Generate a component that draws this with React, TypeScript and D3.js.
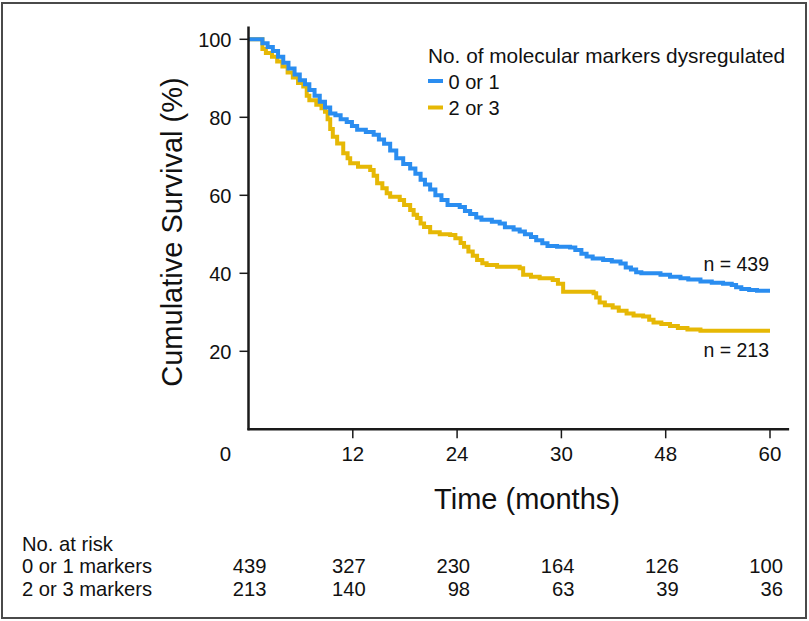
import React from "react";
import * as d3 from "d3";

const xTickValues = [0, 12, 24, 36, 48, 60];
const xTickLabels = ["0", "12", "24", "30", "48", "60"];
const yTickValues = [20, 40, 60, 80, 100];
const groupLabels = ["0 or 1", "2 or 3"];
const legendTitle = "No. of molecular markers dysregulated";
const riskRowLabels = ["0 or 1 markers", "2 or 3 markers"];
const riskLow = [439, 327, 230, 164, 126, 100];
const riskHigh = [213, 140, 98, 63, 39, 36];
const nLabels = ["n = 439", "n = 213"];

const lowTimes = [0, 1.3, 1.6, 2.2, 2.8, 3.4, 4.0, 4.6, 5.3, 5.9, 6.5, 7.0, 7.6, 8.2, 8.8, 9.4, 10.0, 10.6, 11.3, 11.9, 12.5, 13.5, 14.4, 15.0, 15.6, 16.3, 17.0, 17.8, 18.6, 19.2, 19.8, 20.3, 20.9, 21.5, 22.2, 22.9, 24.3, 24.9, 25.5, 26.2, 26.8, 28.0, 28.9, 29.5, 30.5, 31.2, 31.8, 32.5, 33.1, 33.8, 34.4, 35.5, 37.0, 37.6, 38.3, 38.9, 39.6, 40.8, 41.8, 42.8, 43.4, 44.0, 44.6, 45.2, 47.4, 48.5, 49.7, 50.6, 52.0, 53.3, 54.6, 55.6, 56.1, 56.7, 57.6, 58.5, 60];
const lowSurv = [100, 100, 99, 98, 97, 95.5, 94, 92.5, 91, 89.5, 88.5, 87, 85.5, 84, 82.5, 81, 80.5, 79.5, 78.8, 77.8, 76.8, 76.2, 75.5, 74.3, 73.2, 71.5, 69.5, 68, 66.9, 65.5, 64, 62.8, 61.5, 60, 58.8, 57.5, 57, 56, 55.2, 54.3, 53.7, 53.2, 52.8, 51.8, 51.2, 50.7, 50, 49.3, 48.5, 47.7, 47, 46.8, 46.6, 46, 45, 44.3, 43.8, 43.4, 43, 42.5, 41.5, 41, 40.3, 40, 39.6, 39.1, 38.7, 38.4, 37.9, 37.6, 37.3, 37, 36.4, 36, 35.7, 35.5, 35.5];

const highTimes = [0, 1.3, 1.6, 2.0, 2.7, 3.3, 3.9, 4.5, 5.1, 5.7, 6.3, 6.7, 7.0, 7.8, 8.4, 8.8, 9.1, 9.4, 9.7, 10.2, 10.9, 11.4, 11.7, 12.6, 14.0, 14.4, 14.8, 15.4, 15.9, 16.3, 17.4, 17.9, 18.6, 19.0, 19.4, 19.8, 20.2, 20.9, 22.0, 23.2, 23.8, 24.4, 24.8, 25.3, 25.8, 26.3, 26.9, 27.4, 28.6, 31.2, 31.6, 32.5, 33.5, 35.0, 35.6, 36.2, 39.7, 40.0, 40.4, 41.0, 41.9, 42.6, 43.5, 44.3, 45.4, 46.1, 46.6, 47.5, 48.5, 49.4, 50.5, 52.0, 60];
const highSurv = [100, 100, 97.5, 96.5, 95.5, 94.3, 93, 91.5, 90.2, 88.8, 87.9, 85.5, 84.4, 83.2, 82.3, 81.4, 79.5, 77, 75, 73.3, 70.8, 69.5, 68.2, 67.3, 66.5, 65, 63.1, 61.8, 60.5, 59.6, 58.8, 57.5, 56.2, 55, 54.2, 52.8, 51.9, 50.5, 50, 49.8, 49, 47.8, 46.8, 45.6, 44.5, 43.4, 42.6, 42.1, 41.7, 41.3, 39.6, 39.1, 38.7, 38.3, 37.3, 35.3, 34.9, 33.8, 32.5, 31.8, 31.2, 30.4, 29.7, 29.2, 28.9, 28.1, 27.4, 27, 26.5, 26, 25.6, 25.3, 25.3];

const BLUE = "#2a8df0";
const GOLD = "#e6b805";
const FONT = "'Liberation Sans', Arial, Helvetica, sans-serif";

export default function App() {
  const W = 809;
  const H = 621;
  const x = d3.scaleLinear().domain([0, 60]).range([248.5, 770]);
  const y = d3.scaleLinear().domain([0, 100]).range([429.3, 39.3]);

  const line = d3
    .line<[number, number]>()
    .x((d) => x(d[0]))
    .y((d) => y(d[1]))
    .curve(d3.curveStepAfter);

  const lowPts = lowTimes.map((t, i) => [t, lowSurv[i]] as [number, number]);
  const highPts = highTimes.map((t, i) => [t, highSurv[i]] as [number, number]);

  const axisColor = "#1a1a1a";
  const x0 = x(0);
  const yBase = y(0);

  return (
    <div style={{ position: "absolute", left: 0, top: 0, width: W, height: H, background: "#fff" }}>
      <svg width={W} height={H} style={{ display: "block" }} fontFamily={FONT}>
        <rect x={0} y={0} width={W} height={H} fill="#fff" />
        <rect x={2} y={3} width={804} height={615} fill="none" stroke="#4a4a4a" strokeWidth={2} />

        {/* curves */}
        <path d={line(highPts) || ""} fill="none" stroke={GOLD} strokeWidth={4} />
        <path d={line(lowPts) || ""} fill="none" stroke={BLUE} strokeWidth={4} />

        {/* axes */}
        <line x1={x0} y1={26.5} x2={x0} y2={yBase + 1} stroke={axisColor} strokeWidth={2.5} />
        <line x1={x0 - 1} y1={yBase} x2={x(62.2)} y2={yBase} stroke={axisColor} strokeWidth={2.5} />
        {yTickValues.map((v) => (
          <g key={"yt" + v}>
            <line x1={x0 - 9} y1={y(v)} x2={x0} y2={y(v)} stroke={axisColor} strokeWidth={1.5} />
            <text x={x0 - 17} y={y(v)} dy="0.36em" textAnchor="end" fontSize={20} fill="#111">
              {v}
            </text>
          </g>
        ))}
        {xTickValues.map((t, i) => (
          <g key={"xt" + t}>
            {t > 0 && (
              <line x1={x(t)} y1={yBase} x2={x(t)} y2={yBase + 9} stroke={axisColor} strokeWidth={1.5} />
            )}
            <text
              x={t === 0 ? x(t) - 23 : x(t)}
              y={460.5}
              textAnchor="middle"
              fontSize={20.5}
              fill="#111"
            >
              {xTickLabels[i]}
            </text>
          </g>
        ))}

        {/* axis titles */}
        <text x={527} y={509} textAnchor="middle" fontSize={29} fill="#111">
          Time (months)
        </text>
        <text
          transform={`translate(182,232) rotate(-90)`}
          textAnchor="middle"
          fontSize={29}
          fill="#111"
        >
          Cumulative Survival (%)
        </text>

        {/* legend */}
        <text x={428} y={63} fontSize={20.8} fill="#111">
          {legendTitle}
        </text>
        {groupLabels.map((g, i) => (
          <g key={g}>
            <line
              x1={428}
              x2={443}
              y1={81 + i * 26.5}
              y2={81 + i * 26.5}
              stroke={i === 0 ? BLUE : GOLD}
              strokeWidth={4}
            />
            <text x={448.5} y={88.5 + i * 26.5} fontSize={20} fill="#111">
              {g}
            </text>
          </g>
        ))}

        {/* n labels */}
        <text x={x(60) - 1} y={271} textAnchor="end" fontSize={19.5} fill="#111">
          {nLabels[0]}
        </text>
        <text x={x(60) - 1} y={357} textAnchor="end" fontSize={19.5} fill="#111">
          {nLabels[1]}
        </text>

        {/* risk table */}
        <text x={22} y={550.5} fontSize={20.2} fill="#111">
          No. at risk
        </text>
        {riskRowLabels.map((r, ri) => (
          <g key={r}>
            <text x={22} y={573 + ri * 23.3} fontSize={20.2} fill="#111">
              {r}
            </text>
            {(ri === 0 ? riskLow : riskHigh).map((n, ci) => (
              <text
                key={ci}
                x={x(xTickValues[ci]) + (ci === 0 ? 18 : 13)}
                y={573 + ri * 23.3}
                textAnchor="end"
                fontSize={20.2}
                fill="#111"
              >
                {n}
              </text>
            ))}
          </g>
        ))}
      </svg>
    </div>
  );
}
